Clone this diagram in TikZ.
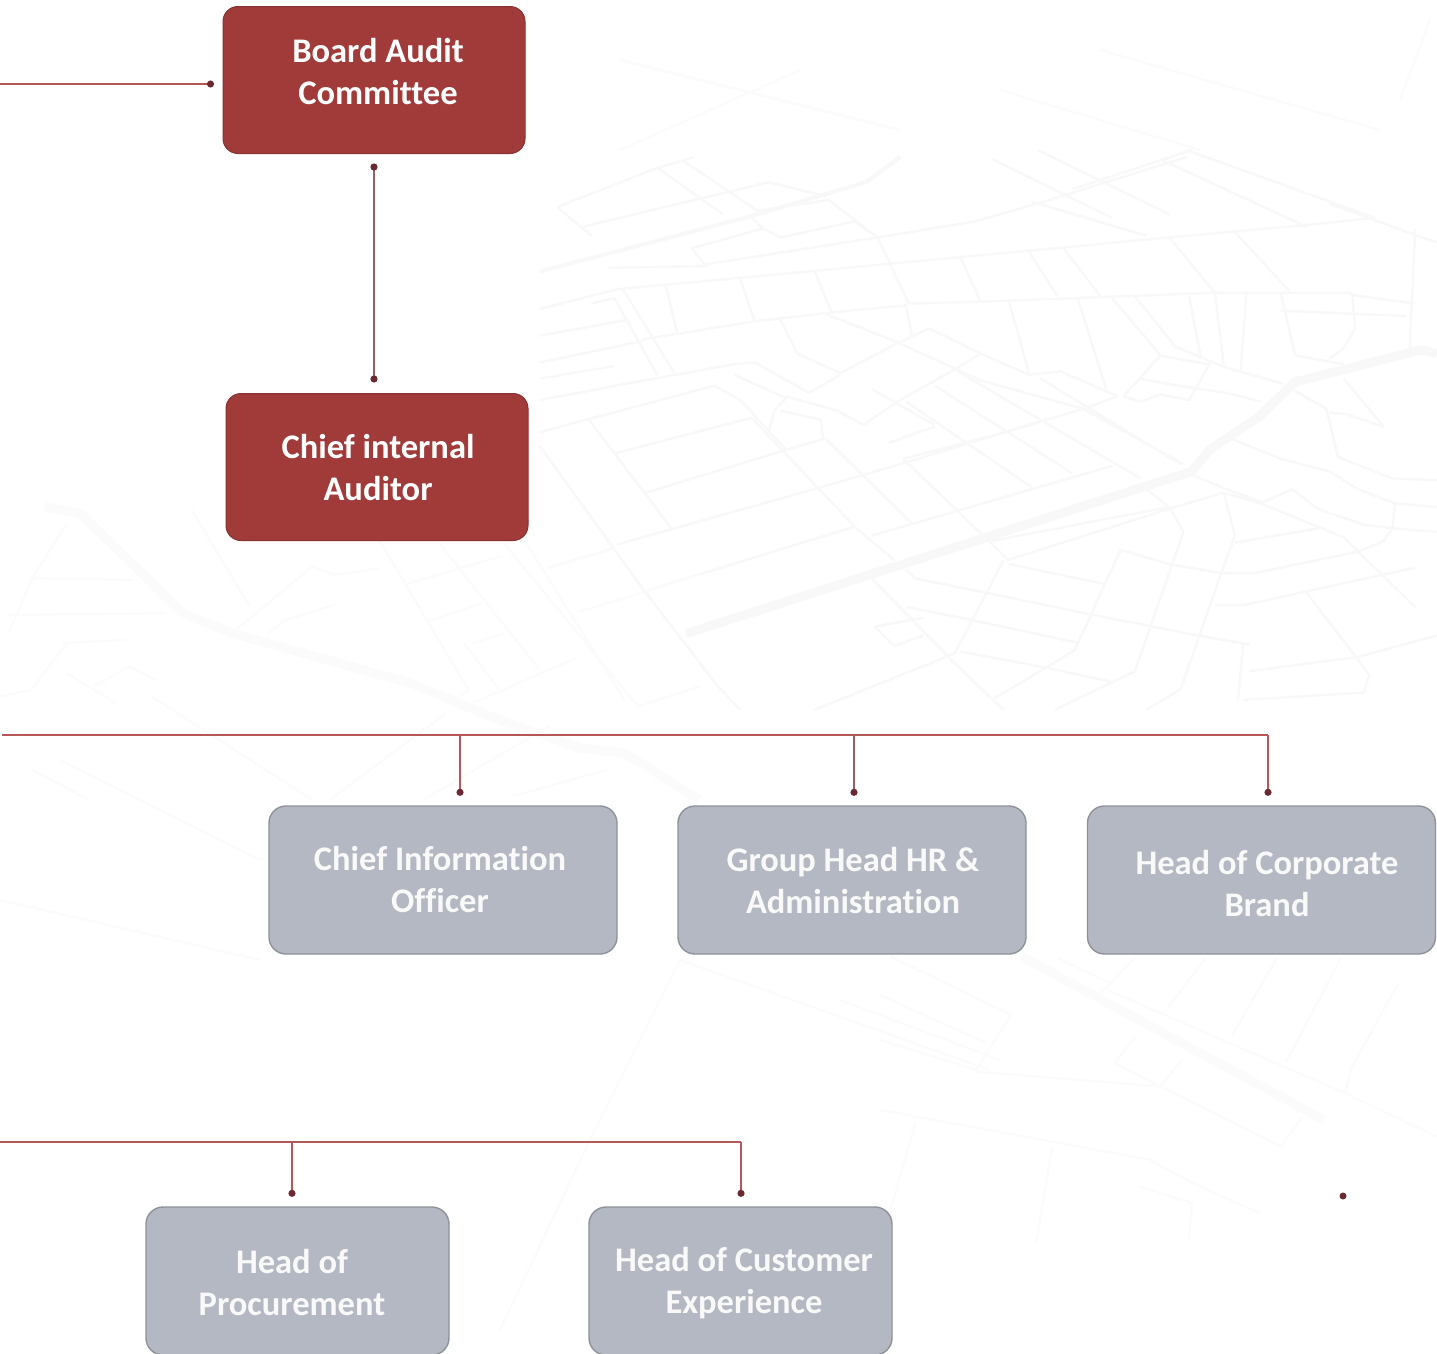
\documentclass[tikz,border=0pt]{standalone}
\usepackage{fontspec}
\setmainfont{Carlito}[Ligatures=CommonOff]
\usetikzlibrary{arrows.meta, calc}

\definecolor{boxred}{HTML}{A03B3A}
\definecolor{boxgrey}{HTML}{B3B8C2}
\definecolor{edgegrey}{HTML}{8E9299}
\definecolor{linered}{HTML}{B4585A}
\definecolor{linemuted}{HTML}{946266}
\definecolor{dotred}{HTML}{6A2A30}
\definecolor{roadgrey}{HTML}{F8F8F8}
\definecolor{farroad}{HTML}{FBFBFB}

\tikzset{
  dot/.tip={Circle[length=7pt,width=7pt,color=dotred]},
  redbox/.style={draw=boxred!85!black, line width=1pt, fill=boxred, rounded corners=15pt, minimum width=302pt, minimum height=147pt},
  greybox/.style={draw=edgegrey, line width=1.4pt, fill=boxgrey, rounded corners=17pt, minimum height=148pt},
  boxtext/.style={text=white, align=center, font=\fontsize{34.5}{42}\selectfont\bfseries},
  greytext/.style={boxtext, text=white!92!boxgrey},
  link/.style={draw=linemuted, line width=2.2pt, dot-dot},
  drop/.style={draw=linered, line width=2pt, -dot, shorten >=9.5pt},
  bus/.style={draw=linered, line width=1.9pt},
  road/.style={draw=roadgrey, line width=2.4pt, line join=round},
  mainroad/.style={draw=roadgrey, line width=9pt, line join=round},
  farline/.style={draw=farroad, line width=2.2pt, line join=round},
  farmain/.style={draw=farroad, line width=9pt, line join=round},
}

\begin{document}
\begin{tikzpicture}[x=1pt, y=-1pt]
    \clip (0,0) rectangle (1437,1353);
    \fill[white] (0,0) rectangle (1437,1353);
    %
    % street map behind, centre part
    \begin{scope}[shift={(540,150)}, xscale=0.572, yscale=0.357]
    \draw[mainroad] (255,1355) -- (1140,900) -- (1170,840) -- (1255,750) -- (1320,650) -- (1540,560) -- (1568,570);
    \draw[road, line width=4pt] (0,340) -- (370,185) -- (570,90) -- (630,20);
    \draw[road] (135,390) -- (470,340) -- (735,300) -- (1100,245) -- (1340,210) -- (1460,190)
      (290,320) -- (590,245) -- (760,200) -- (870,150) -- (1130,20)
      (120,330) -- (290,325) -- (265,275) -- (390,220) -- (370,190)
      (390,220) -- (420,245) -- (550,200) -- (590,245) -- (645,430) -- (770,425) -- (735,300)
      (480,340) -- (510,455) -- (640,435) -- (650,520)
      (220,380) -- (240,515) (350,360) -- (375,480) -- (510,455)
      (375,480) -- (240,515) -- (180,530) (145,390) -- (235,625)
      (90,430) -- (130,415) -- (205,630) (0,520) -- (155,475) (0,595) -- (180,535)
      (0,445) -- (135,390) (0,640) -- (130,605) (0,700) -- (150,655) -- (340,600) -- (375,595)
      (420,475) -- (450,570) -- (525,625) -- (620,545) -- (680,500) -- (770,570) -- (855,630) -- (910,620) -- (1010,690)
      (500,460) -- (620,535) -- (770,645) -- (950,725) -- (1125,880)
      (375,595) -- (470,680) -- (525,630)
      (340,630) -- (430,695) -- (410,730) -- (400,785)
      (165,720) -- (305,660) -- (350,700) -- (430,840)
      (0,790) -- (165,720) (130,850) -- (370,750)
      (185,960) -- (430,840) -- (495,810) -- (490,755) -- (420,730)
      (635,865) -- (815,790) -- (950,725) -- (1010,690)
      (135,1105) -- (490,945) -- (630,880) -- (885,755)
      (195,1230) -- (550,1055) (580,1080) -- (1000,885)
      (790,1095) -- (1100,1000) (815,1150) -- (1100,1005) -- (1195,960)
      (0,830) -- (180,1230) -- (310,1500) -- (350,1568)
      (85,755) -- (230,1060) (15,1170) -- (130,1115)
      (370,750) -- (550,1055) -- (620,1150)
      (500,810) -- (650,1045) (635,865) -- (765,1065) -- (820,1150)
      (640,705) -- (860,945) (690,660) -- (930,905) (730,620) -- (1050,920) (875,640) -- (1120,880)
      (520,730) -- (565,770) -- (630,700) -- (725,615) -- (770,570)
      (430,690) -- (520,730) (580,670) -- (690,770) (610,820) -- (690,775)
      (640,1175) -- (655,1200) -- (780,1240) -- (960,1300) -- (1150,1360) -- (1240,1385)
      (820,1160) -- (985,1215) (640,1280) -- (750,1315) -- (940,1380) (735,1405) -- (885,1450) -- (1000,1490)
      (580,1200) -- (720,1430) -- (810,1568) (810,1150) -- (725,1410) -- (480,1568)
      (1015,1120) -- (935,1400) -- (885,1450) -- (795,1535)
      (1125,1070) -- (1100,1000) -- (1060,950) (1125,1070) -- (1040,1460) -- (900,1568)
      (1190,1190) -- (1120,1510) -- (1060,1568) (1195,960) -- (1215,1080) -- (1190,1190)
      (1015,1120) -- (1100,1160) -- (1190,1185) -- (1250,1185) -- (1430,1125)
      (1215,1100) -- (1360,1060)
      (1195,960) -- (1260,990) -- (1315,950) -- (1360,1005) -- (1440,1050) -- (1495,1060) -- (1568,1070)
      (1260,990) -- (1405,1085) -- (1430,1125) -- (1530,1280)
      (1140,910) -- (1200,950) -- (1260,985)
      (1210,810) -- (1295,865) -- (1380,900) -- (1430,950) -- (1495,990) -- (1568,1000)
      (1495,990) -- (1490,1060) -- (1475,1095) -- (1430,1125)
      (1320,675) -- (1375,725) -- (1395,860) -- (1490,920) -- (1568,925)
      (1405,640) -- (1475,775) -- (1410,740) -- (1380,735)
      (1000,415) -- (1085,575) -- (1020,690) (940,415) -- (990,670) (820,425) -- (855,625)
      (1040,410) -- (1110,550) -- (1200,610) -- (1300,655)
      (1135,410) -- (1155,580) (1180,400) -- (1195,600) (1235,395) -- (1225,620)
      (770,425) -- (1180,400) -- (1420,400)
      (855,285) -- (905,410) (915,275) -- (980,410) (1100,245) -- (1180,400)
      (1215,230) -- (1310,395) (1295,400) -- (1320,575) -- (1405,600)
      (1420,400) -- (1425,500) -- (1405,555) -- (1380,585)
      (1080,575) -- (1170,600) -- (1135,700) -- (1085,685) -- (1050,705) -- (1020,690)
      (1045,640) -- (1135,665) -- (1200,680) -- (1260,705)
      (1530,220) -- (1520,570) (1295,450) -- (1515,465) (1415,405) -- (1530,430)
      (790,25) -- (1000,190) (860,145) -- (1060,240) (1090,30) -- (1340,215) (1130,0) -- (1460,190)
      (930,110) -- (1140,0) (870,0) -- (1100,180) (30,160) -- (90,240)
      (250,30) -- (380,170) -- (505,140) -- (590,245) (75,215) -- (400,90) -- (500,130)
      (30,160) -- (205,50) -- (270,20) (205,50) -- (320,180) (1380,150) -- (1568,260)
      (585,1335) -- (670,1310) (585,1335) -- (620,1390) -- (670,1360)
      (1230,1380) -- (1220,1540) (1240,1460) -- (1430,1420) -- (1568,1360)
      (1180,1275) -- (1230,1275) -- (1530,1170)
      (1340,1240) -- (1450,1470) -- (1440,1520) -- (1230,1540);
    \end{scope}
    %
    % left part, fainter
    \begin{scope}[shift={(0,500)}, xscale=0.446, yscale=0.333]
    \draw[farmain] (100,20) -- (180,40) -- (410,340) -- (520,400) -- (920,550) -- (1100,650) -- (1300,745) -- (1400,760) -- (1568,900);
    \draw[farline] (850,120) -- (1050,570) -- (1030,590)
      (985,130) -- (1210,510) (1130,130) -- (1430,620) -- (1568,560) (1180,130) -- (1400,600)
      (905,255) -- (1120,170) (960,365) -- (1080,310) (1060,430) -- (1130,400) (1040,430) -- (1120,570)
      (1060,610) -- (1290,475) (1300,335) -- (1568,225) (1230,205) -- (1380,145)
      (150,520) -- (260,610) (210,560) -- (290,500) -- (350,540)
      (520,400) -- (700,200) -- (750,225) -- (850,205)
      (20,345) -- (370,340) (70,235) -- (300,240) (140,430) -- (280,420)
      (150,70) -- (70,240) -- (20,400) (0,590) -- (70,570) -- (150,430)
      (340,590) -- (700,900) (70,810) -- (200,900) (740,900) -- (1000,640) (950,900) -- (1230,680) (1150,890) -- (1360,810)
      (430,30) -- (560,320) (600,400) -- (640,360) -- (750,315);
    \end{scope}
    %
    % lower right part, fainter
    \begin{scope}[shift={(880,950)}, xscale=0.355, yscale=0.333]
    \draw[farmain] (400,20) -- (1250,510);
    \draw[farline] (30,20) -- (370,195) -- (270,360) -- (0,270)
      (0,135) -- (300,280) (270,365) -- (790,410) -- (1130,590) -- (1190,500)
      (660,340) -- (720,260) (660,340) -- (790,410) (790,410) -- (850,330)
      (500,25) -- (650,100) -- (620,130) (650,100) -- (720,20) (640,120) -- (1310,430) -- (1568,560)
      (810,175) -- (920,20) (990,260) -- (1120,20) (1145,335) -- (1300,20) (1310,430) -- (1330,350) -- (1460,100)
      (0,480) -- (760,630) -- (880,700) -- (1070,790)
      (100,520) -- (30,780) (485,590) -- (440,880) (730,710) -- (880,760) -- (870,870);
    \end{scope}
    \draw[farline] (680,960) -- (590,1140) -- (500,1330) (680,960) -- (990,1070) (840,1000) -- (1000,1060) (60,760) -- (260,860) (0,900) -- (260,960)
      (620,60) -- (900,130) (1000,90) -- (1200,150) (1100,50) -- (1380,130) (1400,100) -- (1430,20) (620,150) -- (800,70);
    %
    \node [redbox] (audit) at (374,80) {};
    \node [boxtext] (audittext) at (378,72) {Board Audit\\Committee};
    \node [redbox] (auditor) at (377,467) {};
    \node [boxtext] (auditortext) at (378,468) {Chief internal\\Auditor};
    %
    \node [greybox, minimum width=348pt] (cio) at (443,880) {};
    \node [greytext] (ciotext) at (440,880) {Chief Information\\Officer};
    \node [greybox, minimum width=348pt] (hr) at (852,880) {};
    \node [greytext] (hrtext) at (853,881) {Group Head HR \&\\Administration};
    \node [greybox, minimum width=348pt] (brand) at (1261.5,880) {};
    \node [greytext] (brandtext) at (1267,884) {Head of Corporate\\Brand};
    %
    \node [greybox, minimum width=303pt] (procurement) at (297.5,1281) {};
    \node [greytext] (procurementtext) at (292,1282) {Head of\\Procurement};
    \node [greybox, minimum width=303pt] (customer) at (740.5,1281) {};
    \node [greytext] (customertext) at (744,1283) {Head of Customer\\Experience};
    %
    \node [circle, fill=dotred, inner sep=0pt, minimum size=7pt] (straydot) at (1343,1196) {};
    %
    \coordinate (boardend) at (0,84);
    \draw [bus, -dot, shorten >=8.5pt] (boardend) -- (boardend -| audit.west);
    \draw [link, shorten <=9.5pt, shorten >=10.5pt] (audit.south) -- (audit.south |- auditor.north);
    %
    \coordinate (busa) at (2,735);
    \coordinate (busb) at (460,735);
    \coordinate (busc) at (854,735);
    \coordinate (busd) at (1268,735);
    \draw [bus] (busa) -- (busd);
    \draw [drop] (busb) -- (busb |- cio.north);
    \draw [drop, draw=linemuted] (busc) -- (busc |- hr.north);
    \draw [drop] (busd) -- (busd |- brand.north);
    %
    \coordinate (buse) at (0,1142);
    \coordinate (busf) at (292,1142);
    \coordinate (busg) at (741,1142);
    \draw [bus] (buse) -- (busg);
    \draw [drop] (busf) -- (busf |- procurement.north);
    \draw [drop] (busg) -- (busg |- customer.north);
\end{tikzpicture}
\end{document}
